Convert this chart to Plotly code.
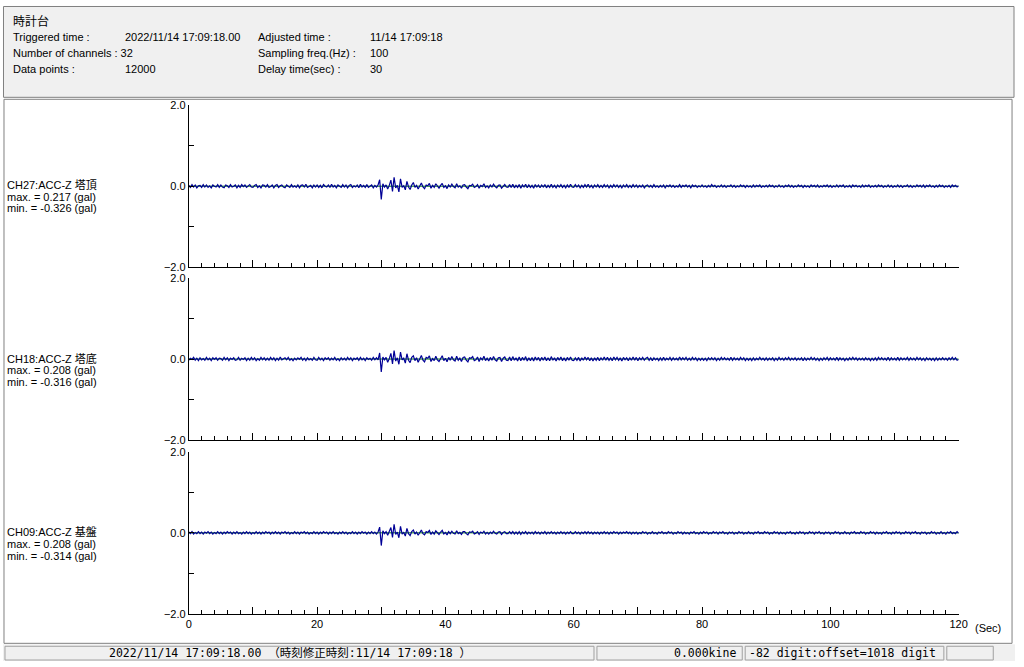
import numpy as np
import plotly.graph_objects as go

# ---------------- data (values in 0.01 gal, one sample every 0.25 s, 0..120 s) ----------------
channel_names = ["CH27:ACC-Z 塔頂", "CH18:ACC-Z 塔底", "CH09:ACC-Z 基盤"]
channel_max = ["0.217", "0.208", "0.208"]
channel_min = ["-0.326", "-0.316", "-0.314"]

ch27_cgal = [
    2,-3,4,-2,3,-4,1,2,-3,4,-2,3,-3,1,-4,3,0,-2,4,-3,
    3,-2,-4,3,1,-3,4,-2,0,3,-4,2,-3,4,-1,3,-3,1,4,-2,
    -3,2,4,-3,1,-4,3,2,-2,4,-3,-1,3,-4,2,4,-3,1,3,-2,
    -4,3,1,-3,4,-2,1,-3,3,-4,2,3,-2,5,-3,0,2,-4,3,-2,
    3,-3,2,-4,4,0,-2,3,-3,5,-2,2,-4,3,1,-3,4,-2,3,-4,
    2,4,-3,1,-2,3,-4,5,-2,2,-3,4,-3,1,3,-4,2,-2,3,16,
    -32.6,6,-2,3,-7,2,15,-13,21.7,-4,2,-14,18,-3,1,-9,12,-2,-8,3,
    9,-3,2,-7,1,8,-2,-6,3,1,7,-5,2,-3,6,-1,-5,2,7,-3,
    1,-6,3,-2,5,-1,-4,6,-2,1,-5,3,4,-2,-6,2,1,5,-3,-1,
    4,-5,2,-1,6,-3,1,-4,3,-2,5,-1,-4,2,3,-5,1,4,-2,-3,
    4,-3,5,-4,2,-3,4,-5,3,-2,5,-4,3,-3,2,-5,4,-2,3,-4,
    3,-2,4,-4,2,-3,5,-3,2,-4,3,-2,4,-3,2,-4,3,-3,5,-2,
    -3,4,-2,3,-4,2,-3,4,-2,5,-3,2,-4,3,-2,4,-3,2,-3,4,
    -2,3,-4,2,-3,4,-2,3,-3,2,-4,3,-2,4,-3,2,-3,4,-2,3,
    -3,2,-2,3,-4,1,3,-2,2,-3,4,-2,1,-3,2,-2,3,-4,2,-1,
    3,-2,2,-3,1,-2,4,-3,2,-1,3,-2,2,-4,3,-1,2,-3,1,-2,
    3,-2,1,-3,2,-2,4,-1,2,-3,1,-2,3,-2,2,-3,1,-1,3,-2,
    2,-3,1,-2,3,-1,2,-3,2,-2,1,-3,3,-2,2,-1,3,-3,1,-2,
    2,-2,3,-1,2,-3,1,-2,3,-2,1,-3,2,-1,3,-2,2,-3,1,-2,
    3,-1,2,-3,2,-2,1,-3,3,-1,2,-2,3,-3,1,-2,2,-1,3,-2,
    2,-3,1,-2,3,-2,2,-1,3,-3,1,-2,2,-3,3,-1,2,-2,1,-3,
    3,-2,2,-1,3,-3,1,-2,2,-2,3,-1,2,-3,1,-2,3,-2,2,-3,
    1,-2,3,-2,2,-3,1,-1,3,-2,2,-3,1,-2,3,-1,2,-2,3,-3,
    2,-1,3,-2,1,-3,2,-2,3,-1,2,-3,1,-2,2,-3,3,-1,2,-2,
    1]

ch18_cgal = [
    -3,2,-1,4,-3,2,-4,3,-2,1,-3,4,-2,2,-4,3,-1,3,-3,2,
    1,-3,4,-2,3,-4,2,-1,3,-3,-2,4,-3,2,-1,3,-4,2,-3,4,
    -2,3,-4,1,-3,4,-2,3,-3,2,-3,4,-2,3,-4,2,-3,5,-2,1,
    3,-2,4,-3,1,-4,2,-2,3,-1,4,-3,2,-4,3,-2,1,-3,4,-2,
    -3,4,-2,2,-4,3,-1,3,-3,2,-2,4,-3,1,-4,3,-2,2,-3,4,
    -2,3,-4,2,-1,3,-3,4,-2,2,-4,3,-1,2,-3,4,-2,3,-2,15,
    -31.6,5,-2,4,-8,1,14,-12,20.8,-5,3,-13,17,-2,2,-10,13,-3,-9,4,
    8,-4,3,-8,2,9,-3,-7,4,2,8,-6,1,-4,7,-2,-6,3,8,-4,
    2,-7,4,-3,6,-2,-5,7,-3,2,-6,4,5,-3,-7,3,2,6,-4,-2,
    5,-6,3,-2,7,-4,2,-5,4,-3,6,-2,-5,3,4,-6,2,5,-3,-4,
    5,-4,6,-3,3,-5,5,-4,4,-3,6,-5,3,-4,4,-5,5,-3,4,-5,
    4,-3,5,-4,3,-4,6,-3,3,-5,4,-3,5,-4,3,-5,4,-3,5,-3,
    -4,3,-3,4,-5,3,-3,5,-2,4,-4,3,-5,3,-3,4,-4,3,-3,5,
    -3,4,-3,3,-4,5,-2,4,-3,3,-5,4,-2,3,-4,3,-3,5,-3,4,
    -4,3,-2,4,-3,2,4,-3,3,-4,3,-2,2,-4,3,-3,4,-3,2,-2,
    4,-3,3,-2,2,-3,5,-2,3,-2,4,-3,2,-3,4,-2,3,-4,2,-3,
    2,-3,2,-4,3,-2,3,-2,3,-4,2,-3,4,-2,3,-2,2,-3,4,-3,
    3,-2,2,-3,4,-2,3,-4,2,-3,2,-4,3,-3,2,-2,4,-2,2,-3,
    3,-3,2,-2,3,-4,2,-3,4,-2,2,-3,3,-2,4,-3,2,-2,3,-3,
    2,-2,3,-4,3,-3,2,-2,4,-2,3,-3,2,-4,2,-3,3,-2,4,-3,
    3,-2,2,-3,4,-3,3,-2,2,-4,2,-3,3,-2,4,-2,3,-3,2,-2,
    2,-3,3,-2,2,-4,2,-3,3,-3,4,-2,3,-2,2,-3,4,-3,3,-2,
    2,-3,4,-3,3,-2,2,-2,4,-3,3,-2,2,-3,4,-2,3,-3,2,-4,
    3,-2,2,-3,2,-4,3,-3,2,-2,3,-2,2,-3,3,-2,4,-2,3,-3,
    -1]

ch09_cgal = [
    2,-2,3,-3,1,-2,3,-2,2,-3,2,-1,3,-2,2,-3,1,-2,3,-2,
    2,-3,2,-2,3,-1,2,-3,2,-2,3,-2,1,-3,2,-2,3,-2,2,-3,
    1,-2,3,-2,2,-3,2,-2,3,-1,2,-3,2,-2,3,-2,2,-3,2,-1,
    3,-2,2,-3,1,-2,3,-2,2,-3,2,-1,3,-2,2,-3,1,-2,3,-2,
    2,-3,2,-2,3,-1,2,-3,2,-2,3,-2,1,-3,2,-2,3,-2,2,-3,
    1,-2,3,-2,2,-3,2,-2,3,-1,2,-3,2,-2,3,-2,2,-3,2,14,
    -31.4,5,-2,3,-6,2,13,-11,20.8,-4,2,-12,16,-3,1,-8,11,-2,-7,3,
    7,-3,2,-6,1,7,-2,-5,3,1,6,-4,2,-3,5,-1,-4,2,6,-3,
    1,-5,3,-2,4,-1,-3,5,-2,1,-4,3,3,-2,-5,2,1,4,-3,-1,
    3,-4,2,-1,4,-3,1,-3,2,-2,4,-1,-3,2,3,-4,1,3,-2,-2,
    3,-2,3,-3,2,-3,3,-4,2,-2,3,-3,2,-2,2,-3,3,-2,2,-3,
    2,-2,3,-3,2,-2,3,-2,2,-3,2,-2,3,-2,2,-3,2,-2,3,-2,
    -2,3,-2,2,-3,2,-2,3,-2,3,-2,2,-3,2,-2,2,-3,2,-2,3,
    -2,2,-3,2,-2,3,-1,2,-3,2,-2,2,-1,3,-2,2,-3,2,-2,2,
    -3,1,-2,3,-1,2,-3,1,-2,3,-2,1,-3,2,-1,3,-2,1,-2,3,
    -1,2,-3,1,-2,3,-1,2,-3,2,-2,1,-3,2,-1,3,-2,1,-3,2,
    -2,3,-1,2,-3,1,-2,3,-1,2,-3,2,-1,3,-2,1,-3,2,-1,2,
    -3,1,-2,3,-1,2,-3,1,-2,3,-2,1,-3,2,-1,3,-2,1,-2,3,
    -1,2,-3,1,-2,3,-1,2,-3,2,-2,1,-3,2,-1,3,-2,1,-3,2,
    -2,3,-1,2,-3,1,-2,3,-1,2,-3,2,-1,3,-2,1,-3,2,-1,2,
    -3,1,-2,3,-1,2,-3,1,-2,3,-2,1,-3,2,-1,3,-2,1,-2,3,
    -1,2,-3,1,-2,3,-1,2,-3,2,-2,1,-3,2,-1,3,-2,1,-3,2,
    -2,3,-1,2,-3,1,-2,3,-1,2,-3,2,-1,3,-2,1,-3,2,-1,2,
    -3,1,-2,3,-1,2,-3,1,-2,3,-2,1,-3,2,-1,3,-2,1,-2,3,
    -1]

series_cgal = [ch27_cgal, ch18_cgal, ch09_cgal]
green_base_t = [0, 120]
green_base_v = [0.0, 0.0]

x_tick_vals = [0, 10, 20, 30, 40, 50, 60, 70, 80, 90, 100, 110, 120]
x_tick_text = ["0", "", "20", "", "40", "", "60", "", "80", "", "100", "", "120"]
x_minor_vals = [v for v in range(0, 121, 2) if v % 10 != 0]
y_tick_vals = [-2, -1, 0, 1, 2]
y_tick_text = ["\u22122.0", "", "0.0", "", "2.0"]

header_title = "時計台"
header_rows = [
    ("Triggered time :", "2022/11/14 17:09:18.00", "Adjusted time :", "11/14 17:09:18"),
    ("Number of channels : 32", "", "Sampling freq.(Hz) :", "100"),
    ("Data points :", "12000", "Delay time(sec) :", "30"),
]
status_main = "2022/11/14 17:09:18.00 （時刻修正時刻:11/14 17:09:18 ）"
status_kine = "0.000kine"
status_digit = "-82 digit:offset=1018 digit"

# ---------------- layout helpers ----------------
W, H = 1024, 667
def px(x):
    return x / W
def py(y):
    return 1 - y / H

FONT = "Liberation Sans, Arial, Noto Sans CJK JP, sans-serif"
MONO = "DejaVu Sans Mono, Noto Sans CJK JP, monospace"
BLUE = "#000096"

panel_px = [(101, 266), (277, 442), (454, 619)]
x_left, x_right = 188, 967

fig = go.Figure()
layout = dict(
    width=W, height=H, autosize=False, margin=dict(l=0, r=0, t=0, b=0),
    paper_bgcolor="white", plot_bgcolor="rgba(0,0,0,0)",
    showlegend=False, font=dict(family=FONT, size=11, color="black"),
)

for i, vals in enumerate(series_cgal):
    n = i + 1
    xa = "x" if n == 1 else f"x{n}"
    ya = "y" if n == 1 else f"y{n}"
    t = np.linspace(0, 120, len(vals))
    gal = np.array(vals, dtype=float) / 100.0
    fig.add_trace(go.Scatter(x=green_base_t, y=green_base_v, mode="lines",
                             line=dict(color="#008000", width=1), xaxis=xa, yaxis=ya,
                             hoverinfo="skip"))
    fig.add_trace(go.Scatter(x=t, y=gal, mode="lines",
                             line=dict(color=BLUE, width=1.2), xaxis=xa, yaxis=ya))
    top, bot = panel_px[i]
    layout[f"xaxis{n if n > 1 else ''}"] = dict(
        domain=[px(x_left), px(x_right)], anchor=ya, range=[0, 120],
        showline=True, linecolor="black", linewidth=1, showgrid=False, zeroline=False,
        tickmode="array", tickvals=x_tick_vals, ticktext=x_tick_text,
        ticks="inside", ticklen=7, tickcolor="black", tickwidth=1,
        showticklabels=(n == 3), tickfont=dict(family=FONT, size=11),
        minor=dict(tickmode="array", tickvals=x_minor_vals, ticks="inside",
                   ticklen=4, tickcolor="black", tickwidth=1, showgrid=False),
        fixedrange=True,
    )
    layout[f"yaxis{n if n > 1 else ''}"] = dict(
        domain=[py(bot), py(top)], anchor=xa, range=[-2, 2],
        showline=True, linecolor="black", linewidth=1, showgrid=False, zeroline=False,
        tickmode="array", tickvals=y_tick_vals, ticktext=y_tick_text,
        ticks="inside", ticklen=5, tickcolor="black", tickwidth=1,
        tickfont=dict(family=FONT, size=11), fixedrange=True,
    )

shapes = [
    dict(type="rect", xref="paper", yref="paper", x0=px(0.5), x1=px(1023), y0=py(93), y1=py(0.5),
         fillcolor="#f0f0f0", line=dict(color="#808080", width=1), layer="below"),
    dict(type="rect", xref="paper", yref="paper", x0=px(1), x1=px(1021), y0=py(649), y1=py(95),
         fillcolor="white", line=dict(color="#808080", width=1), layer="below"),
    dict(type="rect", xref="paper", yref="paper", x0=0, x1=1, y0=0, y1=py(650),
         fillcolor="#f0f0f0", line=dict(width=0), layer="below"),
]
for (a, b) in [(2, 598), (601, 748), (751, 952), (955, 1002)]:
    shapes.append(dict(type="rect", xref="paper", yref="paper", x0=px(a), x1=px(b),
                       y0=py(666), y1=py(652), fillcolor="rgba(0,0,0,0)",
                       line=dict(color="#a0a0a0", width=1), layer="below"))

annotations = []
def ann(x, y, text, anchor="left", font=FONT, size=11):
    xx = x - 2 if anchor == "left" else x + 2
    annotations.append(dict(xref="paper", yref="paper", x=px(xx), y=py(y), text=text,
                            showarrow=False, xanchor=anchor, yanchor="middle",
                            font=dict(family=font, size=size, color="black")))

ann(10, 16, header_title, size=12)
cols = [10, 123, 258, 371]
for r, row in enumerate(header_rows):
    for c, txt in enumerate(row):
        if txt:
            ann(cols[c], 32 + 16 * r, txt)

label_y = [182, 359, 536]
for i in range(3):
    ann(4, label_y[i], channel_names[i])
    ann(4, label_y[i] + 12, f"max. = {channel_max[i]} (gal)")
    ann(4, label_y[i] + 24, f"min. = {channel_min[i]} (gal)")

ann(983, 633, "(Sec)")
ann(107, 659, status_main, font=MONO, size=11.5)
ann(742, 659, status_kine, anchor="right", font=MONO, size=11.5)
ann(755, 659, status_digit, font=MONO, size=11.5)

layout["shapes"] = shapes
layout["annotations"] = annotations
fig.update_layout(**layout)

fig.write_html("out.html", config={"displayModeBar": False},
               post_script="document.body.style.margin='0';")
